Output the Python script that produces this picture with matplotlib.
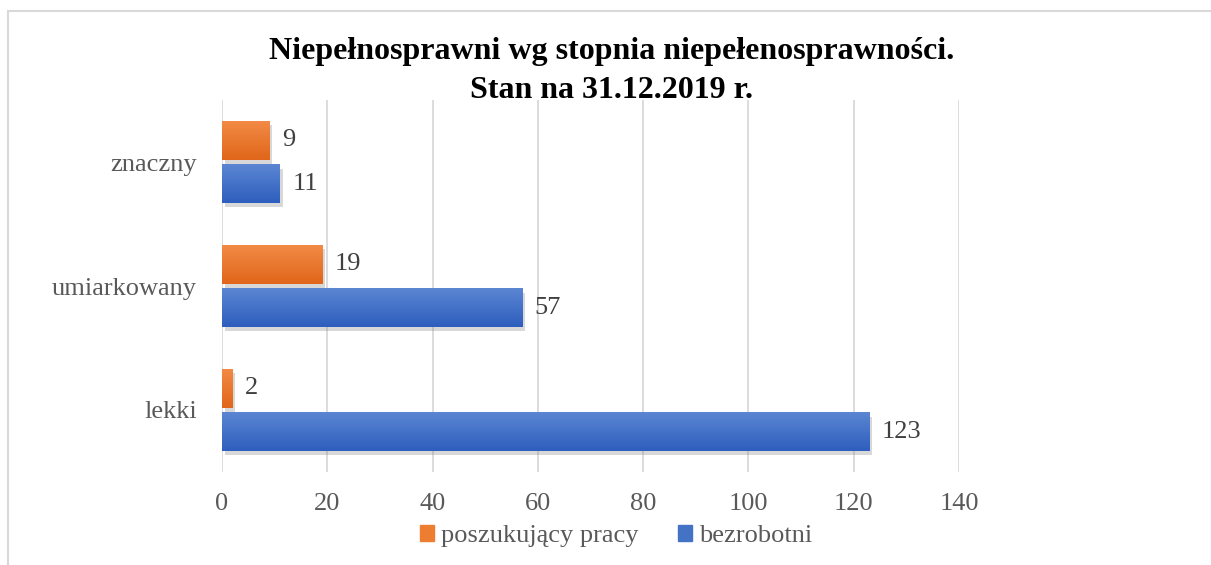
import numpy as np
import matplotlib
matplotlib.use('Agg')
import matplotlib.pyplot as plt
from matplotlib import patheffects
from matplotlib.colors import LinearSegmentedColormap
from matplotlib.lines import Line2D

categories = ['lekki', 'umiarkowany', 'znaczny']
szukajacy = [2, 19, 9]
bezrobotni = [123, 57, 11]
series_names = ['poszukujący pracy', 'bezrobotni']
xticks = [0, 20, 40, 60, 80, 100, 120, 140]

plt.rcParams['font.family'] = ['Liberation Serif', 'DejaVu Serif']

fig = plt.figure(figsize=(12.11, 5.65), dpi=100)
ax = fig.add_axes([222 / 1211, 1 - 472 / 565, 737 / 1211, 372 / 565])

y = np.arange(len(categories))
h = 0.31
off = 0.175

# gradients for bars (light top -> dark bottom)
cm_orange = LinearSegmentedColormap.from_list('o', ['#E0661A', '#F28A45'])
cm_blue = LinearSegmentedColormap.from_list('b', ['#2E5EBE', '#5B86D2'])

shadow = [patheffects.SimplePatchShadow(offset=(2, -3), shadow_rgbFace='#7f7f7f', alpha=0.3),
          patheffects.Normal()]

bars_o = ax.barh(y + off, szukajacy, height=h, color='#ED7D31', zorder=3, path_effects=shadow)
bars_b = ax.barh(y - off, bezrobotni, height=h, color='#4472C4', zorder=3, path_effects=shadow)

grad = np.linspace(0, 1, 64).reshape(-1, 1)
for bars, cmap in [(bars_o, cm_orange), (bars_b, cm_blue)]:
    for b in bars:
        x0, y0 = b.get_x(), b.get_y()
        im = ax.imshow(grad, cmap=cmap, aspect='auto', origin='lower',
                       extent=[x0, x0 + b.get_width(), y0, y0 + b.get_height()], zorder=4)
        im.set_clip_path(b)

for bars, vals in [(bars_o, szukajacy), (bars_b, bezrobotni)]:
    for b, v in zip(bars, vals):
        ax.text(v + 2.4, b.get_y() + b.get_height() / 2, str(v), va='center', ha='left',
                fontsize=19, color='#404040', zorder=5)

ax.set_xlim(0, 140)
ax.set_ylim(-0.5, 2.5)
ax.set_xticks(xticks)
ax.set_yticks(y)
ax.set_yticklabels(categories)
ax.tick_params(axis='x', length=0, pad=15, labelsize=19, labelcolor='#595959')
ax.tick_params(axis='y', length=0, pad=18, labelsize=19, labelcolor='#595959')
ax.grid(axis='x', color='#D9D9D9', linewidth=1.3, zorder=0)
for s in ax.spines.values():
    s.set_visible(False)

fig.text(0.505, 1 - 71 / 565, 'Niepełnosprawni wg stopnia niepełenosprawności.\nStan na 31.12.2019 r.',
         ha='center', va='center', fontsize=23, fontweight='bold', color='black', linespacing=1.45)

handles = [plt.Rectangle((0, 0), 1, 1, color='#ED7D31'), plt.Rectangle((0, 0), 1, 1, color='#4472C4')]
fig.legend(handles, series_names, loc='center', bbox_to_anchor=(616 / 1211, 1 - 536 / 565),
           ncol=2, frameon=False, fontsize=19, labelcolor='#595959',
           handlelength=0.55, handleheight=0.55, handletextpad=0.25, columnspacing=1.5)

# chart border (top and left visible)
fig.add_artist(Line2D([7.5 / 1211, 1], [1 - 10.5 / 565] * 2, transform=fig.transFigure, color='#D9D9D9', lw=1.5))
fig.add_artist(Line2D([7.5 / 1211] * 2, [0, 1 - 10.5 / 565], transform=fig.transFigure, color='#D9D9D9', lw=1.5))

fig.savefig('out.png', dpi=100)
